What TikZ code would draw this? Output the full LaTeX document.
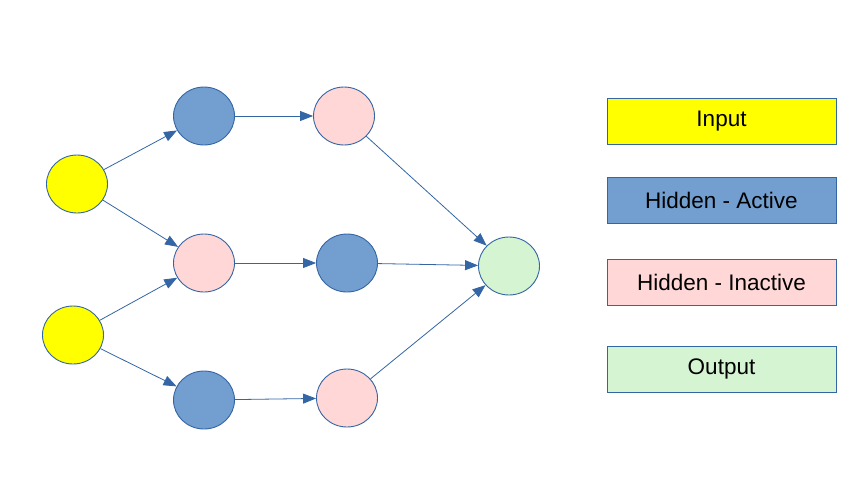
\documentclass[tikz,border=0pt]{standalone}
\usepackage{fontspec}
\setmainfont{Liberation Sans}
\usepackage{xcolor}
\usetikzlibrary{shapes.geometric,arrows.meta}
\definecolor{edge}{HTML}{3465A4}
\definecolor{inp}{HTML}{FFFF00}
\definecolor{act}{HTML}{729FCF}
\definecolor{inact}{HTML}{FFD7D7}
\definecolor{outp}{HTML}{D4F4D2}

\begin{document}
\begin{tikzpicture}[x=1pt,y=-1pt,
    neuron/.style={ellipse,draw=edge,line width=0.9pt,minimum width=61pt,minimum height=58pt,inner sep=0pt},
    legend/.style={rectangle,draw=edge,line width=0.9pt,minimum width=229pt,minimum height=46pt,font=\fontsize{22.5}{26}\selectfont},
    link/.style={draw=edge,line width=0.8pt,-{Triangle[length=13pt,width=10pt]}}]
        \useasboundingbox (0,0) rectangle (853,485);
        \node[neuron,fill=inp] (in1) at (77,184) {};
        \node[neuron,fill=inp] (in2) at (73,335) {};
        \node[neuron,fill=act] (h11) at (204,116) {};
        \node[neuron,fill=inact] (h12) at (204,263) {};
        \node[neuron,fill=act] (h13) at (204,400) {};
        \node[neuron,fill=inact] (h21) at (344,116) {};
        \node[neuron,fill=act] (h22) at (347,263) {};
        \node[neuron,fill=inact] (h23) at (347,398) {};
        \node[neuron,fill=outp] (out) at (509,266) {};
        \draw[link] (in1)--(h11);
        \draw[link] (in1)--(h12);
        \draw[link] (in2)--(h12);
        \draw[link] (in2)--(h13);
        \draw[link] (h11)--(h21);
        \draw[link] (h12)--(h22);
        \draw[link] (h13)--(h23);
        \draw[link] (h21)--(out);
        \draw[link] (h22)--(out);
        \draw[link] (h23)--(out);
        \node[legend,fill=inp] (lin) at (721.5,121) {Input};
        \node[legend,fill=act] (lact) at (721.5,200) {Hidden - Active};
        \node[legend,fill=inact] (linact) at (721.5,282) {Hidden - Inactive};
        \node[legend,fill=outp] (lout) at (721.5,369) {Output};
    \end{tikzpicture}
\end{document}
